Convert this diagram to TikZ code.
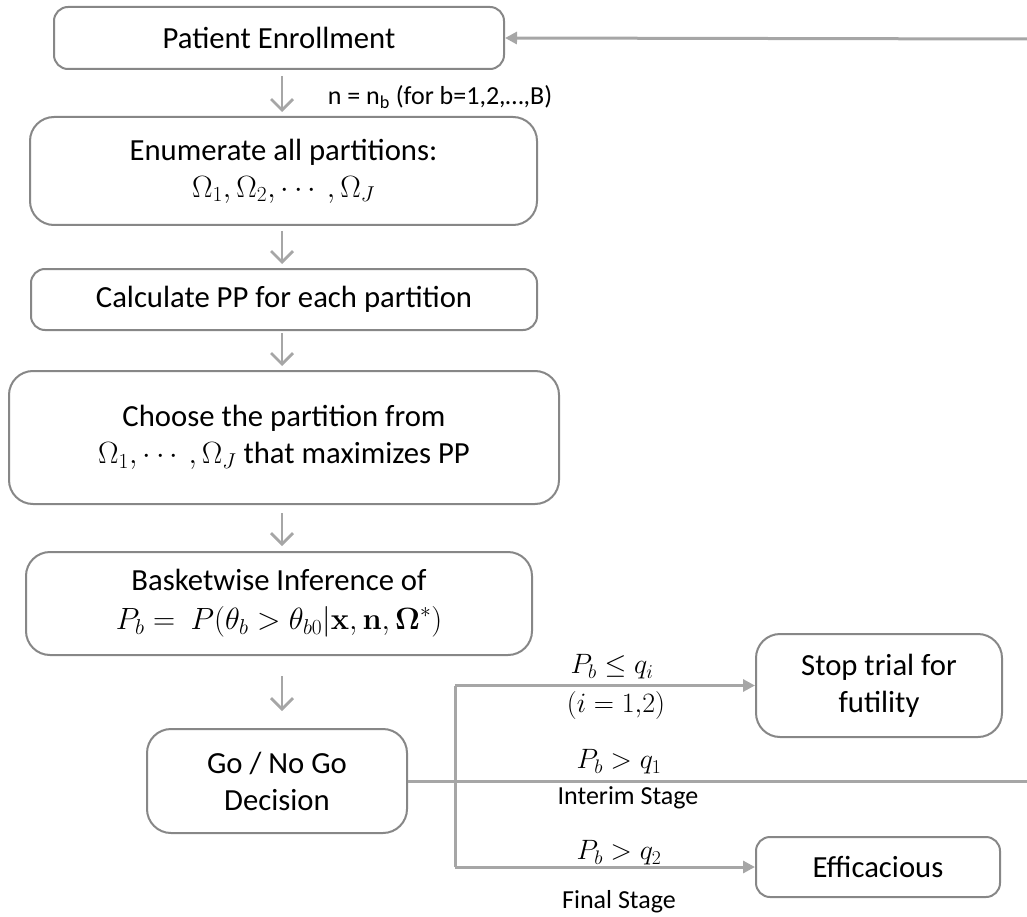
\RequirePackage{fix-cm}
\documentclass[tikz,border=0pt]{standalone}
\usepackage{amsmath}
\usepackage[no-math]{fontspec}
\setmainfont{Carlito}
\usetikzlibrary{arrows.meta}
\definecolor{boxgray}{RGB}{135,135,135}
\definecolor{arrgray}{RGB}{166,166,166}
\newcommand{\boxfont}{\fontsize{30.7}{37}\selectfont}
\newcommand{\lblfont}{\fontsize{26}{31}\selectfont}
\newcommand{\mlblfont}{\fontsize{28}{33}\selectfont}
\tikzset{
  flowbox/.style={draw=boxgray, line width=2pt, fill=white, align=center,
    inner sep=0pt, font=\boxfont, rounded corners=24pt},
  smallround/.style={rounded corners=14pt},
  varrow/.style={draw=arrgray, line width=2.8pt, -{Straight Barb[length=11pt,width=22pt,line width=2.8pt]}},
  harrow/.style={draw=arrgray, line width=3pt, -{Triangle[length=12pt,width=12pt]}},
  hline/.style={draw=arrgray, line width=3pt},
  lbl/.style={font=\lblfont, inner sep=0pt},
  mlbl/.style={font=\mlblfont, inner sep=0pt}
}
\begin{document}
\begin{tikzpicture}[x=1pt,y=-1pt]
\useasboundingbox (0,0) rectangle (1027,917);
\coordinate (ax) at (282,0);
\coordinate (sx) at (455,0);
\coordinate (rt) at (1027,39);

\node[flowbox, smallround, minimum width=450pt, minimum height=62pt] (b1) at (279,38) {Patient Enrollment};
\node[flowbox, minimum width=507pt, minimum height=108pt] (b2) at (283.5,171) {Enumerate all partitions:\\ $\Omega_1, \Omega_2, \cdots, \Omega_J$};
\node[flowbox, smallround, minimum width=506pt, minimum height=61pt] (b3) at (284,299.5) {Calculate PP for each partition};
\node[flowbox, minimum width=550pt, minimum height=133pt] (b4) at (284,437.5) {Choose the partition from\\ $\Omega_1, \cdots, \Omega_J$ that maximizes PP};
\node[flowbox, minimum width=506pt, minimum height=103pt] (b5) at (279,603.5) {Basketwise Inference of\\[2pt] $P_b =\ P(\theta_b > \theta_{b0} | \mathbf{x}, \mathbf{n}, \boldsymbol{\Omega}^{*})$};
\node[flowbox, minimum width=260pt, minimum height=104pt] (b6) at (277,781) {Go / No Go\\Decision};
\node[flowbox, minimum width=246pt, minimum height=103pt] (stop) at (879,685.5) {Stop trial for\\futility};
\node[flowbox, smallround, minimum width=244pt, minimum height=60pt] (eff) at (878,867) {Efficacious};

\draw[varrow, shorten <=6pt, shorten >=4pt] (b1.south -| ax) -- (b2.north -| ax);
\draw[varrow, shorten <=5pt, shorten >=4pt] (b2.south -| ax) -- (b3.north -| ax);
\draw[varrow, shorten <=2pt, shorten >=4pt] (b3.south -| ax) -- (b4.north -| ax);
\draw[varrow, shorten <=8pt, shorten >=5pt] (b4.south -| ax) -- (b5.north -| ax);
\draw[varrow, shorten <=20pt, shorten >=17pt] (b5.south -| ax) -- (b6.north -| ax);

\node[lbl] (nlbl) at (440,97) {n = n\textsubscript{b} (for b=1,2,…,B)};

\coordinate (re) at (1027,781);
\draw[hline] (b6.east) -- (re);
\draw[hline] (stop.west -| sx) -- (eff.west -| sx);
\draw[harrow] (stop.west -| sx) -- (stop.west);
\draw[harrow] (eff.west -| sx) -- (eff.west);
\draw[harrow] (rt) -- (b1.east);

\node[mlbl] (l1) at (612,667) {$P_b \le q_i$};
\node[mlbl] (l2) at (616,705) {$(i = 1{,}2)$};
\node[mlbl] (l3) at (619,762) {$P_b > q_1$};
\node[lbl] (l4) at (628,798) {Interim Stage};
\node[mlbl] (l5) at (619,853) {$P_b > q_2$};
\node[lbl] (l6) at (619,902) {Final Stage};
\end{tikzpicture}
\end{document}
